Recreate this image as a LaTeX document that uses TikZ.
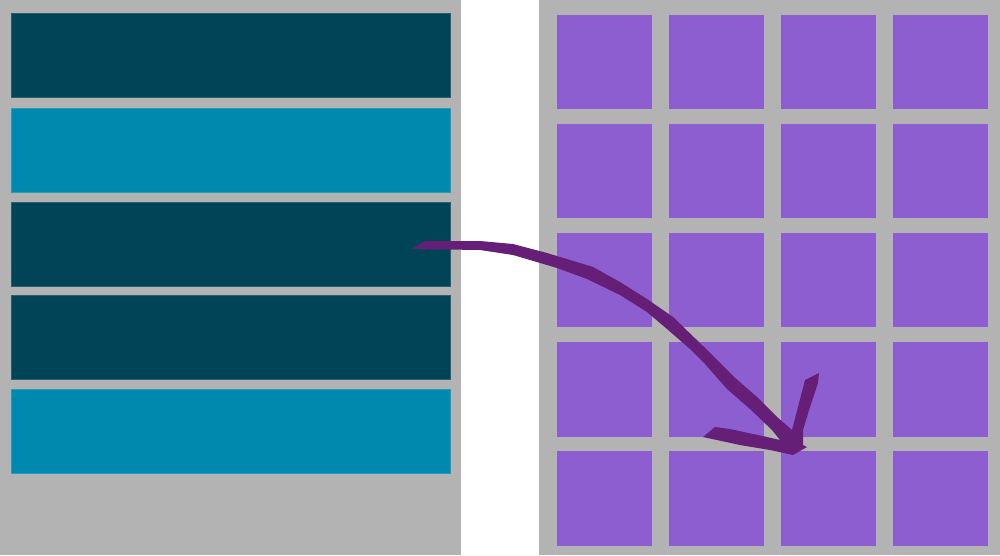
\documentclass[tikz,border=0pt]{standalone}
\definecolor{panelgray}{HTML}{B3B3B3}
\definecolor{bardark}{HTML}{024457}
\definecolor{barlight}{HTML}{0089AE}
\definecolor{cellpurple}{HTML}{8D5ECF}
\definecolor{arrowpurple}{HTML}{661F77}
\begin{document}
\begin{tikzpicture}[x = 0.02cm, y = -0.02cm,
                    rowbar/.style = {shape = rectangle, inner sep = 0pt,
                                     minimum width = 8.78cm, minimum height = 1.68cm},
                    cell/.style   = {shape = rectangle, inner sep = 0pt, fill = cellpurple,
                                     minimum width = 1.9cm, minimum height = 1.9cm}]
        \useasboundingbox (0,0) rectangle (1000,555);
        \fill[panelgray] (0,0) rectangle (461,555);
        \fill[panelgray] (538.5,0) rectangle (1000,555);
        \foreach \y/\c [count = \i] in {55/bardark, 150/barlight, 244/bardark, 337/bardark, 431/barlight}
        {
          \node[rowbar, fill = \c, draw = \c!85!white, line width = 0.3pt] (bar\i) at (230.5,\y) {};
        }
        \foreach \i in {1, ..., 4}
          \foreach \j in {1, ..., 5}
          {
            \node[cell] (cell\i\j) at ({492+112*\i},{-47+109*\j}) {};
          }
        \fill[arrowpurple] (412,249) -- (425,241) -- (480,241) -- (513,244) -- (547,253)
          -- (593,267) -- (620,282) -- (647,299) -- (673,317) -- (703,346) -- (733,376)
          -- (757,397) -- (777,417) -- (792,430) -- (805,380) -- (819,373) -- (818,383)
          -- (810,407) -- (803,430) -- (803,445) -- (807,447) -- (793,455) -- (770,450)
          -- (740,445) -- (703,437) -- (715,427) -- (730,429) -- (767,437) -- (780,440)
          -- (772,430) -- (750,409) -- (727,389) -- (705,364) -- (690,349) -- (667,329)
          -- (647,312) -- (620,295) -- (587,279) -- (557,268) -- (513,255) -- (480,250)
          -- cycle;
      \end{tikzpicture}
\end{document}
